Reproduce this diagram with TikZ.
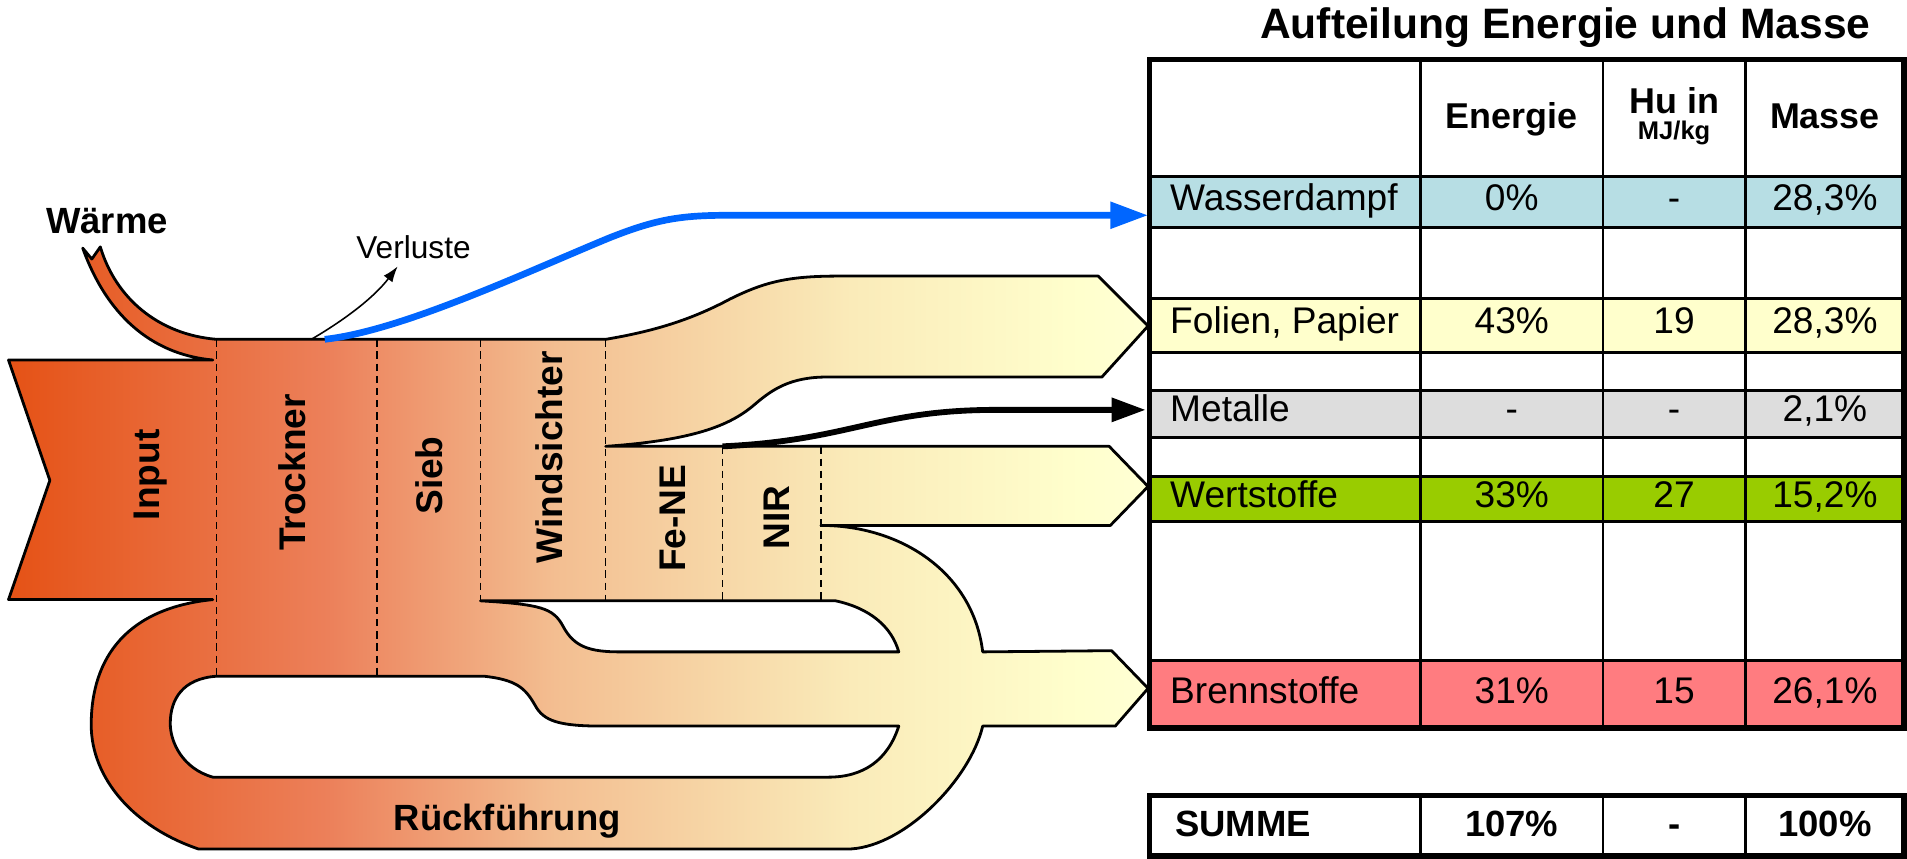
\documentclass[tikz,border=0pt]{standalone}
\usepackage{fontspec}
\setmainfont{Liberation Sans}
\usetikzlibrary{arrows.meta}

% Farben Tabelle
\definecolor{wasser}{RGB}{183,222,228}
\definecolor{folien}{RGB}{255,255,204}
\definecolor{metall}{RGB}{221,221,221}
\definecolor{wert}{RGB}{153,204,0}
\definecolor{brenn}{RGB}{255,124,128}
\definecolor{dampf}{RGB}{0,102,255}

% Farbverlauf Sankey
\definecolor{skA}{RGB}{229,82,22}
\definecolor{skB}{RGB}{236,128,90}
\definecolor{skC}{RGB}{243,190,145}
\definecolor{skD}{RGB}{250,235,185}
\definecolor{skE}{RGB}{255,255,205}
\definecolor{skF}{RGB}{255,255,212}
\pgfdeclarehorizontalshading{sankeyshading}{100bp}{color(0bp)=(skA); color(25bp)=(skA); color(39bp)=(skB); color(49bp)=(skC); color(62bp)=(skD); color(72bp)=(skE); color(75bp)=(skF); color(100bp)=(skF)}

\tikzset{
  flowline/.style={draw=black, line width=2.3pt, line join=round},
  trenner/.style={line width=1.3pt, dash pattern=on 6pt off 4pt},
  stufe/.style={rotate=90, inner sep=0pt, font=\bfseries\fontsize{30.5}{36}\selectfont},
  titel/.style={anchor=base, inner sep=0pt, font=\bfseries\fontsize{35}{42}\selectfont},
  kopf/.style={anchor=base, inner sep=0pt, font=\bfseries\fontsize{29.5}{35}\selectfont},
  kopfklein/.style={anchor=base, inner sep=0pt, font=\bfseries\fontsize{21}{25}\selectfont},
  zelle/.style={anchor=base, inner sep=0pt, font=\fontsize{30.5}{36}\selectfont},
  zellename/.style={zelle, anchor=base west},
  summe/.style={anchor=base, inner sep=0pt, font=\bfseries\fontsize{30}{36}\selectfont},
  gitter/.style={line width=2.2pt},
  rahmen/.style={line width=4.5pt},
}

\begin{document}
\begin{tikzpicture}[x=1pt, y=-1pt]
\useasboundingbox (0,0) rectangle (1568,706);

% Sankey-Fluss (Aussenkontur und zwei Loecher)
\shade[flowline, shading=sankeyshading, even odd rule]
  (7,296) -- (175,296)
  .. controls (130,292) and (90,265) .. (68,204)
  -- (75.5,213) -- (82.5,203)
  .. controls (95,245) and (130,275) .. (178,279)
  -- (498,279)
  .. controls (540,272) and (570,262) .. (600,246)
  .. controls (630,231) and (650,227) .. (690,227)
  -- (903,227) -- (944,268) -- (906,310) -- (680,310)
  .. controls (650,310) and (635,320) .. (620,333)
  .. controls (600,350) and (570,362) .. (498,367)
  -- (912,367) -- (944,400) -- (913,432) -- (675,432)
  .. controls (740,432) and (800,470) .. (808,536)
  -- (914,535) -- (944,566) -- (917,597) -- (808,597)
  .. controls (798,640) and (745,695) .. (700,698)
  -- (163,698)
  .. controls (110,680) and (75,640) .. (75,596)
  .. controls (75,540) and (105,500) .. (175,493)
  -- (7,493) -- (41,395) -- cycle
  (395,494) -- (687,494)
  .. controls (715,500) and (733,515) .. (739,536)
  -- (510,536)
  .. controls (485,536) and (472,532) .. (463,515)
  .. controls (455,500) and (445,497) .. (395,494) -- cycle
  (178,556) -- (398,556)
  .. controls (425,559) and (432,566) .. (440,580)
  .. controls (447,593) and (460,597) .. (495,597)
  -- (739,597)
  .. controls (730,625) and (710,639) .. (681,639)
  -- (175,639)
  .. controls (150,632) and (140,610) .. (140,595)
  .. controls (140,575) and (150,558) .. (178,556) -- cycle;

% Trennlinien der Stufen
\draw[trenner] (178,279) -- (178,556);
\draw[trenner] (310,279) -- (310,556);
\draw[trenner] (395,279) -- (395,494);
\draw[trenner] (498,279) -- (498,494);
\draw[trenner] (594,367) -- (594,494);
\draw[trenner] (675,367) -- (675,494);

% Stufen
\node[stufe] (input) at (123.5,390.5) {Input};
\node[stufe] (trockner) at (240,388.5) {Trockner};
\node[stufe] (sieb) at (353,391) {Sieb};
\node[stufe] (windsichter) at (452,376) {Windsichter};
\node[stufe] (fene) at (553.5,426) {Fe-NE};
\node[stufe] (nir) at (638.5,425.5) {NIR};

\node[anchor=base, inner sep=0pt, font=\bfseries\fontsize{30}{36}\selectfont] (waerme) at (88,192) {Wärme};
\node[anchor=base, inner sep=0pt, font=\fontsize{26}{31}\selectfont] (verluste) at (340,212.4) {Verluste};
\node[anchor=base, inner sep=0pt, font=\bfseries\fontsize{30}{36}\selectfont] (rueck) at (417,682.5) {Rückführung};

% Pfeile
\coordinate (verlustAb) at (256,279);
\coordinate (verlustEnde) at (327,219);
\coordinate (dampfAb) at (267,279);
\coordinate (dampfEin) at (944,177);
\coordinate (metallAb) at (594,367);
\coordinate (metallEin) at (942,337);

\draw[line width=1.3pt, -{Latex[length=13pt, width=9pt]}] (verlustAb) .. controls (285,262) and (308,244) .. (verlustEnde);
\draw[dampf, line width=5.5pt, -{Triangle[length=31pt, width=21pt]}] (dampfAb) .. controls (330,272) and (430,225) .. (500,196) .. controls (540,180) and (560,177) .. (600,177) -- (dampfEin);
\draw[line width=4.8pt, -{Triangle[length=28pt, width=19pt]}] (metallAb) .. controls (700,362) and (720,337) .. (820,337) -- (metallEin);

% Tabelle
\fill[wasser] (945,145) rectangle (1566,187);
\fill[folien] (945,245.5) rectangle (1566,290);
\fill[metall] (945,321) rectangle (1566,360);
\fill[wert] (945,392) rectangle (1566,429);
\fill[brenn] (945,543) rectangle (1566,598.5);
\foreach \y in {145,187,245.5,290,321,360,392,429,543} {
    \draw[gitter] (945,\y) -- (1566,\y);
}
\foreach \x in {1168,1318,1435} {
    \draw[gitter] (\x,49) -- (\x,598.5);
    \draw[gitter] (\x,654) -- (\x,704);
}
\draw[rahmen] (945,49) rectangle (1565.5,598.5);
\draw[rahmen] (945,654) rectangle (1565.5,704);

\node[titel] (titel) at (1287,31.5) {Aufteilung Energie und Masse};

\node[kopf] (kEnergie) at (1243,105.5) {Energie};
\node[kopf] (kHu) at (1376.5,93) {Hu in};
\node[kopfklein] (kEinheit) at (1376.5,115) {MJ/kg};
\node[kopf] (kMasse) at (1500.5,105.5) {Masse};

\node[zellename] (wName) at (962,172.7) {Wasserdampf};
\node[zelle] (wEnergie) at (1243,172.7) {0\%};
\node[zelle] (wHu) at (1376.5,172.7) {-};
\node[zelle] (wMasse) at (1500.5,172.7) {28,3\%};

\node[zellename] (fName) at (962,274) {Folien, Papier};
\node[zelle] (fEnergie) at (1243,274) {43\%};
\node[zelle] (fHu) at (1376.5,274) {19};
\node[zelle] (fMasse) at (1500.5,274) {28,3\%};

\node[zellename] (mName) at (962,346.7) {Metalle};
\node[zelle] (mEnergie) at (1243,346.7) {-};
\node[zelle] (mHu) at (1376.5,346.7) {-};
\node[zelle] (mMasse) at (1500.5,346.7) {2,1\%};

\node[zellename] (wsName) at (962,417.2) {Wertstoffe};
\node[zelle] (wsEnergie) at (1243,417.2) {33\%};
\node[zelle] (wsHu) at (1376.5,417.2) {27};
\node[zelle] (wsMasse) at (1500.5,417.2) {15,2\%};

\node[zellename] (bName) at (962,578.3) {Brennstoffe};
\node[zelle] (bEnergie) at (1243,578.3) {31\%};
\node[zelle] (bHu) at (1376.5,578.3) {15};
\node[zelle] (bMasse) at (1500.5,578.3) {26,1\%};

% Summe
\node[summe, anchor=base west] (sName) at (966,687.4) {SUMME};
\node[summe] (sEnergie) at (1243,687.4) {107\%};
\node[summe] (sHu) at (1376.5,687.4) {-};
\node[summe] (sMasse) at (1500.5,687.4) {100\%};

\end{tikzpicture}
\end{document}
